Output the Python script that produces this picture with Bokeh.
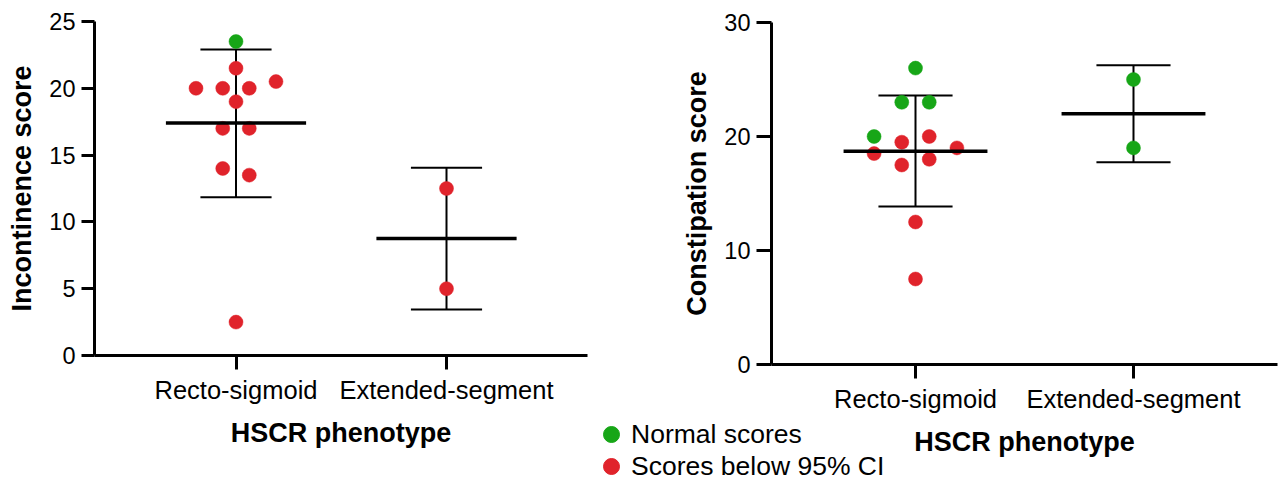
from bokeh.plotting import figure
from bokeh.layouts import row
from bokeh.models import FixedTicker, Range1d, Legend, LegendItem
from bokeh.embed import file_html
from bokeh.resources import INLINE

# ---------------- data ----------------
categories = ["Recto-sigmoid", "Extended-segment"]
status_names = ["Normal scores", "Scores below 95% CI"]
status_colors = ["#17a617", "#e0232b"]

# Incontinence score
inc_group = ["Recto-sigmoid"] * 12 + ["Extended-segment"] * 2
inc_score = [23.5, 21.5, 20.5, 20, 20, 20, 19, 17, 17, 14, 13.5, 2.5, 12.5, 5]
inc_status = ["Normal scores"] + ["Scores below 95% CI"] * 13
inc_offset = [0, 0, 0.19, -0.19, -0.063, 0.063, 0, -0.063, 0.063, -0.063, 0.063, 0, 0, 0]
inc_mean = [17.4, 8.75]
inc_low = [11.85, 3.45]
inc_high = [22.9, 14.05]
inc_yticks = [0, 5, 10, 15, 20, 25]

# Constipation score
con_group = ["Recto-sigmoid"] * 12 + ["Extended-segment"] * 2
con_score = [26, 23, 23, 20, 20, 19.5, 19, 18.5, 18, 17.5, 12.5, 7.5, 25, 19]
con_status = (["Normal scores"] * 4 + ["Scores below 95% CI"] * 8
              + ["Normal scores"] * 2)
con_offset = [0, -0.063, 0.063, -0.19, 0.063, -0.063, 0.19, -0.19, 0.063, -0.063, 0, 0, 0, 0]
con_mean = [18.7, 22.0]
con_low = [13.85, 17.75]
con_high = [23.6, 26.25]
con_yticks = [0, 10, 20, 30]

FONT = "Liberation Sans"


def make_panel(ylabel, ymax, yticks, group, score, status, offset, mean, low, high,
               width, height, x_range, mb_left, mb_right, mb_top, mb_bottom,
               ytick_out, xtick_out, mean_half, cap_half):
    p = figure(width=width, height=height,
               x_range=Range1d(*x_range), y_range=Range1d(0, ymax),
               output_backend="svg", toolbar_location=None,
               min_border_left=mb_left, min_border_right=mb_right,
               min_border_top=mb_top, min_border_bottom=mb_bottom,
               frame_align=False)
    p.outline_line_color = None
    p.xgrid.visible = False
    p.ygrid.visible = False

    cx = [float(i) for i in range(len(categories))]

    # error bars (mean +/- SD)
    p.segment(x0=cx, y0=low, x1=cx, y1=high, line_color="black", line_width=2)
    p.segment(x0=[c - cap_half for c in cx], y0=high, x1=[c + cap_half for c in cx], y1=high,
              line_color="black", line_width=2)
    p.segment(x0=[c - cap_half for c in cx], y0=low, x1=[c + cap_half for c in cx], y1=low,
              line_color="black", line_width=2)

    for name, col in zip(status_names, status_colors):
        xs = [categories.index(g) + o for g, o, s in zip(group, offset, status) if s == name]
        ys = [v for v, s in zip(score, status) if s == name]
        p.scatter(xs, ys, size=14, fill_color=col, line_color=col, line_width=0.5)

    # mean lines
    p.segment(x0=[c - mean_half for c in cx], y0=mean, x1=[c + mean_half for c in cx], y1=mean,
              line_color="black", line_width=3.5)

    xa = p.xaxis[0]
    ya = p.yaxis[0]
    xa.ticker = FixedTicker(ticks=cx)
    xa.major_label_overrides = {i: c for i, c in enumerate(categories)}
    ya.ticker = FixedTicker(ticks=yticks)
    for ax in (xa, ya):
        ax.axis_line_width = 3
        ax.axis_line_color = "black"
        ax.major_tick_line_width = 3
        ax.major_tick_line_color = "black"
        ax.major_tick_in = 0
        ax.minor_tick_line_color = None
        ax.major_label_text_font = FONT
        ax.major_label_text_color = "black"
        ax.axis_label_text_font = FONT
        ax.axis_label_text_font_style = "bold"
        ax.axis_label_text_font_size = "27px"
        ax.axis_label_text_color = "black"
        ax.major_label_standoff = 6
    ya.major_label_text_font_size = "23.5px"
    xa.major_label_text_font_size = "25.5px"
    ya.major_tick_out = ytick_out
    xa.major_tick_out = xtick_out
    ya.axis_label = ylabel
    xa.axis_label = "HSCR phenotype"
    ya.axis_label_standoff = 9
    xa.axis_label_standoff = 11
    return p


H = 481
p1 = make_panel("Incontinence score", 25, inc_yticks, inc_group, inc_score, inc_status,
                inc_offset, inc_mean, inc_low, inc_high,
                width=591, height=H, x_range=(-0.6722, 1.6698),
                mb_left=94, mb_right=4, mb_top=21, mb_bottom=126,
                ytick_out=13, xtick_out=14, mean_half=0.333, cap_half=0.169)

p2 = make_panel("Constipation score", 30, con_yticks, con_group, con_score, con_status,
                con_offset, con_mean, con_low, con_high,
                width=692, height=H, x_range=(-0.6606, 1.6606),
                mb_left=180, mb_right=6, mb_top=22, mb_bottom=117,
                ytick_out=15, xtick_out=14, mean_half=0.33, cap_half=0.17)

# ---------------- legend (own small canvas, placed below-left of right panel) ----------------
LW, LH = 310, 67
leg = figure(width=LW, height=LH, output_backend="svg", toolbar_location=None,
             x_range=Range1d(0, 1), y_range=Range1d(0, 1), min_border=0,
             styles={"position": "absolute", "left": "591px", "top": "414px"})
leg.axis.visible = False
leg.grid.visible = False
leg.outline_line_color = None
leg.background_fill_alpha = 0
leg.border_fill_alpha = 0
for name, col, loc in zip(status_names, status_colors, [(0, LH - 40), (0, -5)]):
    r = leg.scatter([-10], [-10], size=14, fill_color=col, line_color=col)
    lg = Legend(items=[LegendItem(label=name, renderers=[r])], location=loc,
                glyph_width=40, glyph_height=40, label_height=40, label_standoff=0,
                padding=0, margin=0, spacing=0,
                background_fill_alpha=0, border_line_color=None,
                label_text_font=FONT, label_text_font_size="26.5px", label_text_color="black")
    leg.add_layout(lg)

layout = row(p1, p2)
open("out.html", "w").write(file_html([layout, leg], INLINE))
